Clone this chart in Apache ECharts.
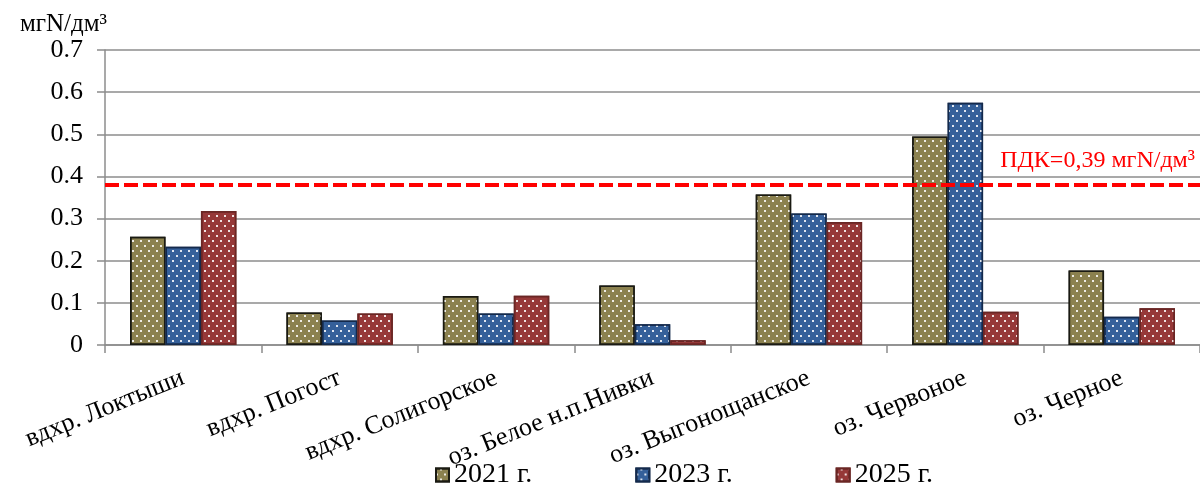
<!DOCTYPE html>
<html><head><meta charset="utf-8">
<script src="https://cdn.jsdelivr.net/npm/echarts@6/dist/echarts.min.js"></script>
<style>html,body{margin:0;padding:0;background:#fff}#c{width:1200px;height:485px}</style>
</head><body><div id="c"></div>
<script>
const categories = ['вдхр. Локтыши','вдхр. Погост','вдхр. Солигорское','оз. Белое н.п.Нивки','оз. Выгонощанское','оз. Червоное','оз. Черное'];
const seriesNames = ['2021 г.','2023 г.','2025 г.'];
const values2021 = [0.257,0.077,0.116,0.141,0.357,0.495,0.177];
const values2023 = [0.233,0.058,0.075,0.049,0.312,0.575,0.067];
const values2025 = [0.318,0.075,0.117,0.011,0.292,0.079,0.087];
const pdkValue = 0.377;
const pdkLabel = 'ПДК=0,39 мгN/дм³';
const yUnit = 'мгN/дм³';
const yMin = 0, yMax = 0.7, yStep = 0.1;

const FONT = "'Liberation Serif','Times New Roman',serif";
const fills = ['#8B814F','#35609A','#963838'];
const borders = ['#1a1a12','#142a4c','#6a2624'];
const allValues = [values2021, values2023, values2025];

function decal() {
  return {symbol:'rect', symbolSize:1, color:'rgba(255,255,255,0.85)',
    dashArrayX:[[1.5,5.5],[0,3.5,1.5,2]], dashArrayY:[1.5,2.2], rotation:0};
}

const series = seriesNames.map((n,i)=>({
  name:n, type:'bar', data:allValues[i], barGap:'0%', barCategoryGap:'32%',
  itemStyle:{color:fills[i], borderColor:borders[i], borderWidth:1.5, decal:decal()},
  emphasis:{disabled:true}
}));
series[0].markLine = {
  silent:true, symbol:['none','none'],
  lineStyle:{color:'#ff0000', type:[14,5], width:4},
  label:{show:true, position:'insideEndTop', formatter:pdkLabel, color:'#ff0000',
    fontFamily:FONT, fontSize:24, distance:[5,12]},
  data:[{yAxis:pdkValue}]
};

const chart = echarts.init(document.getElementById('c'), null, {renderer:'canvas'});
chart.setOption({
  animation:false,
  backgroundColor:'#fff',
  grid:{left:105, right:0, top:50, bottom:140},
  legend:{data:seriesNames, left:430, top:456, itemWidth:13, itemHeight:13, itemGap:103,
    icon:'rect', textStyle:{fontFamily:FONT, fontSize:28, color:'#000'}},
  xAxis:{type:'category', data:categories,
    axisLine:{lineStyle:{color:'#8c8c8c', width:1.5}},
    axisTick:{show:true, length:8, lineStyle:{color:'#8c8c8c', width:1.5}},
    axisLabel:{rotate:22, interval:0, margin:32, fontFamily:FONT, fontSize:26, color:'#000'}},
  yAxis:{type:'value', min:yMin, max:yMax, interval:yStep,
    name:yUnit, nameLocation:'end', nameGap:10,
    nameTextStyle:{fontFamily:FONT, fontSize:25, color:'#000', align:'right', padding:[0,-2,0,0]},
    axisLine:{show:true, lineStyle:{color:'#8c8c8c', width:1.5}},
    axisTick:{show:true, length:8, lineStyle:{color:'#8c8c8c', width:1.5}},
    axisLabel:{margin:22, fontFamily:FONT, fontSize:26, color:'#000'},
    splitLine:{lineStyle:{color:'#8c8c8c', width:1.5}}},
  series:series
});
</script></body></html>
